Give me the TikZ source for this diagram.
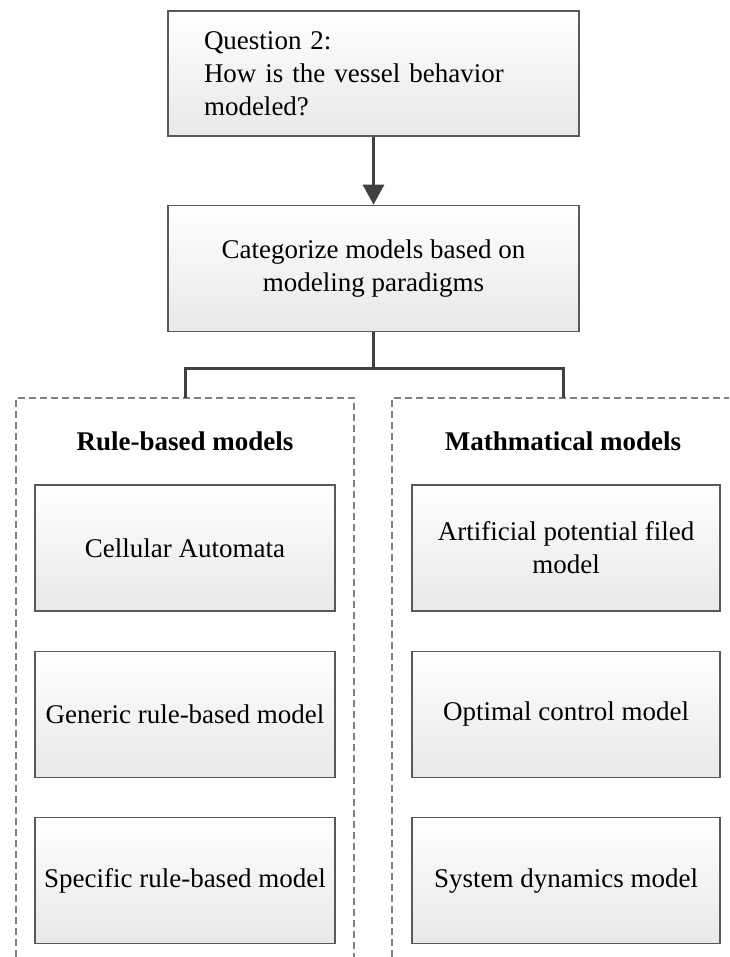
\documentclass[tikz,border=0pt]{standalone}
\usepackage{fontspec}
\setmainfont{Liberation Serif}
\usetikzlibrary{arrows.meta}
\usetikzlibrary{positioning}

\begin{document}
\begin{tikzpicture}[x=1pt,y=-1pt,>={Triangle[length=20pt,width=21pt]},
					font=\fontsize{27}{33}\selectfont,
					box/.style={draw=black!65,line width=1.3pt,top color=white,bottom color=black!9,
						minimum width=300pt,minimum height=126pt,align=center,inner sep=0pt},
					link/.style={draw=black!75,line width=3pt},
					frame/.style={draw=black!50,line width=1.2pt,dash pattern=on 7pt off 4pt}]
					\tikzstyle{title}=[font=\fontsize{27}{33}\selectfont\bfseries,anchor=base]
					\useasboundingbox (0,0) rectangle (729,957);
					
					% dashed groups, open at the bottom
					\draw[frame] (16,957) -- (16,398) -- (354,398) -- (354,957);
					\draw[frame] (392,957) -- (392,398) -- (729,398);
					\coordinate (rulestop) at (185,398);
					\coordinate (mathtop)  at (563,398);
					
					\node[box,minimum width=411pt,minimum height=125pt,align=left,text width=339pt]
						(q) at (373.5,73.5) {Question 2:\\How is the vessel behavior\\modeled?};
					\node[box,minimum width=411pt] (cat) [below=68pt of q] {Categorize models based on\\modeling paradigms};
					
					\node[title] (rules) at (185,450) {Rule-based models};
					\node[title] (maths) at (563,450) {Mathmatical models};
					
					\node[box] (ca)  at (185,548)      {Cellular Automata};
					\node[box] (grb) [below=39pt of ca]  {Generic rule-based model};
					\node[box] (srb) [below=39pt of grb] {Specific rule-based model};
					
					\node[box,minimum width=308pt] (apf) at (566,548)        {Artificial potential filed\\model};
					\node[box,minimum width=308pt] (ocm) [below=39pt of apf] {Optimal control model};
					\node[box,minimum width=308pt] (sdm) [below=39pt of ocm] {System dynamics model};
					
					\draw[link,->] (q) -- (cat);
					\draw[link] (cat.south) -- ++(0,37) coordinate (fork);
					\draw[link] (rulestop) |- (fork) -| (mathtop);
					\end{tikzpicture}
\end{document}
